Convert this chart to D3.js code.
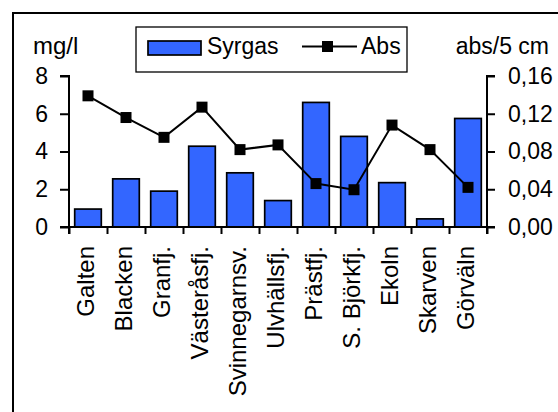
<!DOCTYPE html>
<html><head><meta charset="utf-8">
<script src="https://cdn.jsdelivr.net/npm/d3@7"></script>
<style>
body{margin:0;background:#fff;}
text{font-family:"Liberation Sans",Arial,sans-serif;fill:#000;}
</style></head>
<body>
<svg id="c" width="558" height="412"></svg>
<script>
const categories = ["Galten","Blacken","Granfj.","Västeråsfj.","Svinnegarnsv.","Ulvhällsfj.","Prästfj.","S. Björkfj.","Ekoln","Skarven","Görväln"];
const syrgas = [0.95, 2.55, 1.9, 4.28, 2.87, 1.4, 6.6, 4.8, 2.35, 0.43, 5.75];
const abs = [0.139, 0.116, 0.095, 0.127, 0.082, 0.087, 0.046, 0.0395, 0.108, 0.082, 0.042];
const leftTicks = [0, 2, 4, 6, 8];
const rightTicks = [0, 0.04, 0.08, 0.12, 0.16];
const seriesNames = ["Syrgas", "Abs"];

const svg = d3.select("#c");
const FS = 23;
const blue = "#3366ff";

// outer frame
svg.append("rect").attr("x", 13).attr("y", 13).attr("width", 560).attr("height", 420)
  .attr("fill", "none").attr("stroke", "#000").attr("stroke-width", 2);

const x0 = 69, x1 = 487, yTop = 76, yBot = 227;
const xb = d3.scaleBand().domain(categories).range([x0, x1]);
const yL = d3.scaleLinear().domain([0, 8]).range([yBot, yTop]);
const yR = d3.scaleLinear().domain([0, 0.16]).range([yBot, yTop]);
const cx = d => xb(d) + xb.bandwidth()/2;

// bars
svg.append("g").selectAll("rect").data(categories).join("rect")
  .attr("x", d => cx(d) - 13.3)
  .attr("width", 26.6)
  .attr("y", (d,i) => yL(syrgas[i]))
  .attr("height", (d,i) => yBot - yL(syrgas[i]))
  .attr("fill", blue).attr("stroke", "#000").attr("stroke-width", 1.7);

// left axis
const gL = svg.append("g").attr("transform", `translate(${x0},0)`)
  .call(d3.axisLeft(yL).tickValues(leftTicks).tickSize(9).tickPadding(12).tickFormat(d3.format("d")));
// right axis
const gR = svg.append("g").attr("transform", `translate(${x1},0)`)
  .call(d3.axisRight(yR).tickValues(rightTicks).tickSize(8).tickPadding(13).tickFormat(d => d3.format(".2f")(d).replace(".", ",")));
// bottom axis
const gB = svg.append("g").attr("transform", `translate(0,${yBot})`)
  .call(d3.axisBottom(d3.scaleLinear().domain([0, categories.length]).range([x0, x1]))
    .tickValues(d3.range(categories.length + 1)).tickSize(7).tickFormat(""));

[gL, gR, gB].forEach(g => {
  g.select(".domain").attr("stroke", "#000").attr("stroke-width", 2);
  g.selectAll(".tick line").attr("stroke", "#000").attr("stroke-width", 2);
  g.selectAll("text").attr("font-size", FS).attr("font-family", '"Liberation Sans",Arial,sans-serif');
});
gL.select(".domain").attr("d", `M-9,${yTop}H0V${yBot}H-9`);
gR.select(".domain").attr("d", `M8,${yTop}H0V${yBot}H8`);
gB.select(".domain").attr("d", `M${x0},7V0H${x1}V7`);

// category labels
svg.append("g").selectAll("text").data(categories).join("text")
  .attr("transform", d => `translate(${cx(d)},246) rotate(-90)`)
  .attr("text-anchor", "end").attr("dy", "0.24em").attr("font-size", 24)
  .text(d => d);

// line
const line = d3.line().x((d,i) => cx(categories[i])).y(d => yR(d));
svg.append("path").datum(abs).attr("d", line).attr("fill", "none").attr("stroke", "#000").attr("stroke-width", 2);
svg.append("g").selectAll("rect").data(abs).join("rect")
  .attr("x", (d,i) => cx(categories[i]) - 5.5)
  .attr("y", d => yR(d) - 5.5).attr("width", 11).attr("height", 11).attr("fill", "#000");

// axis titles
svg.append("text").attr("x", 33).attr("y", 54).attr("font-size", 24).text("mg/l");
svg.append("text").attr("x", 549).attr("y", 54).attr("text-anchor", "end").attr("font-size", FS).text("abs/5 cm");

// legend
const lg = svg.append("g");
lg.append("rect").attr("x", 136).attr("y", 27).attr("width", 271).attr("height", 45)
  .attr("fill", "#fff").attr("stroke", "#000").attr("stroke-width", 1.3);
lg.append("rect").attr("x", 148).attr("y", 41).attr("width", 53).attr("height", 14)
  .attr("fill", blue).attr("stroke", "#000").attr("stroke-width", 1.7);
lg.append("text").attr("x", 207).attr("y", 54).attr("font-size", FS).text(seriesNames[0]);
lg.append("line").attr("x1", 302).attr("x2", 357).attr("y1", 46.5).attr("y2", 46.5).attr("stroke", "#000").attr("stroke-width", 2);
lg.append("rect").attr("x", 322).attr("y", 41).attr("width", 11).attr("height", 11).attr("fill", "#000");
lg.append("text").attr("x", 361).attr("y", 54).attr("font-size", FS).text(seriesNames[1]);
</script>
</body></html>
